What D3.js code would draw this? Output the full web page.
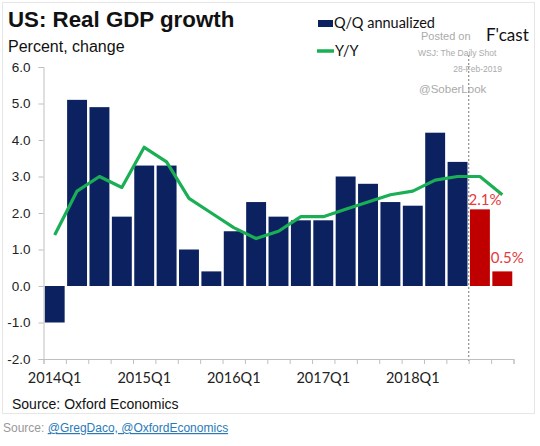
<!DOCTYPE html>
<html>
<head>
<meta charset="utf-8">
<script src="https://cdn.jsdelivr.net/npm/d3@7"></script>
<style>
  body { margin: 0; background: #fff; }
  svg { display: block; }
</style>
</head>
<body>
<div id="chart"></div>
<script>
// quarters shown on the x axis, 2014Q1 .. 2019Q1
var quarters = ['2014Q1', '2014Q2', '2014Q3', '2014Q4',
  '2015Q1', '2015Q2', '2015Q3', '2015Q4',
  '2016Q1', '2016Q2', '2016Q3', '2016Q4',
  '2017Q1', '2017Q2', '2017Q3', '2017Q4',
  '2018Q1', '2018Q2', '2018Q3', '2018Q4', '2019Q1'];
// Q/Q annualized growth (bars)
var qoq = [-1.0, 5.1, 4.9, 1.9, 3.3, 3.3, 1.0, 0.4, 1.5, 2.3, 1.9, 1.8,
  1.8, 3.0, 2.8, 2.3, 2.2, 4.2, 3.4, 2.1, 0.4];
// Y/Y growth (line)
var yoy = [1.4, 2.6, 3.0, 2.7, 3.8, 3.4, 2.4, 2.0, 1.6, 1.3, 1.5, 1.9,
  1.9, 2.1, 2.3, 2.5, 2.6, 2.9, 3.0, 3.0, 2.5];
// forecast quarters and their labels
var forecast = ['2018Q4', '2019Q1'];
var forecastLabels = ['2.1%', '0.5%'];
var yTicks = [-2, -1, 0, 1, 2, 3, 4, 5, 6];
var xLabels = ['2014Q1', '2015Q1', '2016Q1', '2017Q1', '2018Q1'];

var W = 540, H = 446;
var plotL = 43.5, plotR = 513.5, plotT = 67, plotB = 359;
var navy = '#0c2260', red = '#c00000', green = '#1aaf54';

var svg = d3.select('#chart').append('svg').attr('width', W).attr('height', H);

// light frame round the chart
svg.append('rect').attr('x', 2.5).attr('y', 2.5).attr('width', 532).attr('height', 411)
  .attr('fill', 'none').attr('stroke', '#e6e6e6');

var x = d3.scaleBand().domain(quarters).range([plotL, plotR]).padding(0);
var xb = d3.scaleLinear().domain([0, quarters.length]).range([plotL, plotR]);
var y = d3.scaleLinear().domain([-2, 6]).range([plotB, plotT]);

var data = quarters.map(function (q, i) {
  return { q: q, qoq: qoq[i], yoy: yoy[i], f: forecast.indexOf(q) };
});

// bars
var inset = x.step() * 0.055;
svg.append('g').selectAll('rect').data(data).enter().append('rect')
  .attr('x', d => x(d.q) + inset)
  .attr('width', x.bandwidth() - inset * 2)
  .attr('y', d => y(Math.max(0, d.qoq)))
  .attr('height', d => Math.abs(y(d.qoq) - y(0)))
  .attr('fill', d => d.f >= 0 ? red : navy);

// forecast divider
var fx = xb(quarters.indexOf(forecast[0]));
svg.append('line').attr('x1', fx).attr('x2', fx).attr('y1', 55).attr('y2', plotB + 4)
  .attr('stroke', '#777').attr('stroke-width', 1).attr('stroke-dasharray', '2,2');

// y/y line
var line = d3.line().x(d => x(d.q) + x.bandwidth() / 2).y(d => y(d.yoy));
svg.append('path').datum(data).attr('d', line)
  .attr('fill', 'none').attr('stroke', green).attr('stroke-width', 3.2)
  .attr('stroke-linejoin', 'round');

// forecast labels
svg.append('g').selectAll('text').data(data.filter(d => d.f >= 0)).enter().append('text')
  .attr('x', d => x(d.q) + x.bandwidth() / 2 + 5)
  .attr('y', d => y(d.qoq) - (d.f === 0 ? 4 : 8))
  .attr('text-anchor', 'middle')
  .attr('font-family', 'Lato, sans-serif').attr('font-size', 15)
  .attr('fill', '#e53a40')
  .text(d => forecastLabels[d.f]);

// y axis
var gy = svg.append('g').attr('transform', 'translate(' + plotL + ',0)')
  .call(d3.axisLeft(y).tickValues(yTicks).tickSize(5).tickPadding(8)
    .tickFormat(d => d.toFixed(1)));
gy.selectAll('text').attr('font-family', 'Liberation Sans, Arial, sans-serif')
  .attr('font-size', 13.5).attr('fill', '#222');

// x axis: ticks on quarter boundaries, labels under each Q1
var gx = svg.append('g').attr('transform', 'translate(0,' + plotB + ')')
  .call(d3.axisBottom(xb).ticks(quarters.length).tickSize(5).tickFormat(''));
var gl = svg.append('g').attr('transform', 'translate(0,' + plotB + ')')
  .call(d3.axisBottom(x).tickValues(xLabels).tickSize(0).tickPadding(14));
gl.select('.domain').remove();
gl.selectAll('text').attr('font-family', 'Lato, sans-serif').attr('font-size', 14.5).attr('fill', '#222');
[gx, gy].forEach(g => {
  g.select('.domain').attr('stroke', '#bfbfbf');
  g.selectAll('.tick line').attr('stroke', '#bfbfbf');
});

// titles
svg.append('text').attr('x', 8).attr('y', 27).text('US: Real GDP growth')
  .attr('font-family', 'Liberation Sans, Arial, sans-serif').attr('font-weight', 'bold')
  .attr('font-size', 22.3).attr('fill', '#111');
svg.append('text').attr('x', 8).attr('y', 52).text('Percent, change')
  .attr('font-family', 'Liberation Sans, Arial, sans-serif').attr('font-size', 16).attr('fill', '#111');

// legend
var lg = svg.append('g').attr('font-family', 'Lato, sans-serif').attr('font-size', 14.5).attr('fill', '#111');
lg.append('rect').attr('x', 318).attr('y', 20).attr('width', 15).attr('height', 7).attr('fill', navy);
lg.append('text').attr('x', 334).attr('y', 28).text('Q/Q annualized');
lg.append('line').attr('x1', 317).attr('x2', 334).attr('y1', 51).attr('y2', 51)
  .attr('stroke', green).attr('stroke-width', 3.5);
lg.append('text').attr('x', 335).attr('y', 56).text('Y/Y');

svg.append('text').attr('x', 486).attr('y', 41).text("F'cast")
  .attr('font-family', 'Lato, sans-serif').attr('font-size', 17).attr('fill', '#111');

// watermark
var wm = svg.append('g').attr('font-family', 'Liberation Sans, Arial, sans-serif').attr('fill', '#aaa');
wm.append('text').attr('x', 421).attr('y', 40).attr('font-size', 11).text('Posted on');
wm.append('text').attr('x', 418).attr('y', 56).attr('font-size', 8.5).text('WSJ: The Daily Shot');
wm.append('text').attr('x', 502).attr('y', 72).attr('font-size', 8.5).attr('text-anchor', 'end').text('28-Feb-2019');
wm.append('text').attr('x', 419).attr('y', 93).attr('font-size', 11.5).text('@SoberLook');

// sources
svg.append('text').attr('x', 12).attr('y', 409).text('Source: Oxford Economics')
  .attr('font-family', 'Liberation Sans, Arial, sans-serif').attr('font-size', 14).attr('fill', '#111');
var src = svg.append('text').attr('x', 3).attr('y', 432)
  .attr('font-family', 'Liberation Sans, Arial, sans-serif').attr('font-size', 12);
src.append('tspan').attr('fill', '#999').text('Source: ');
src.append('tspan').attr('fill', '#2a7ab8').attr('text-decoration', 'underline').text('@GregDaco, @OxfordEconomics');
</script>
</body>
</html>
